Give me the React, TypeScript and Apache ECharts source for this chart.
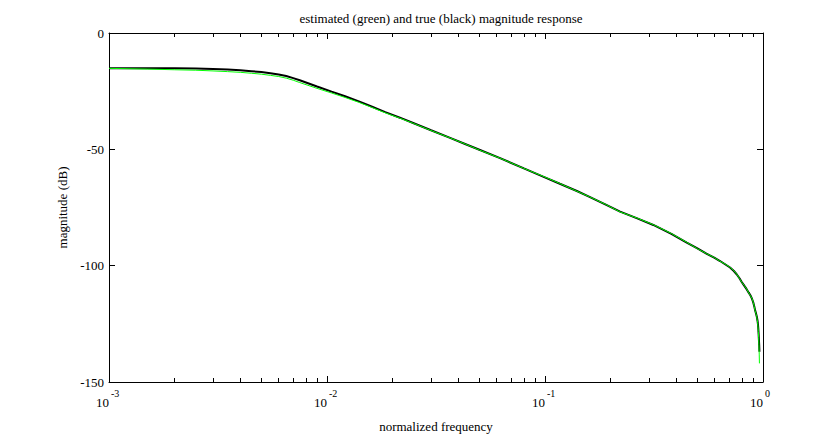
import React, { useEffect, useRef } from "react";
import * as echarts from "echarts";

// normalized frequency samples
const freq = [
  0.001, 0.0015, 0.002, 0.0025, 0.003, 0.0035, 0.004, 0.0045, 0.005, 0.0055,
  0.006, 0.0065, 0.007, 0.0075, 0.009, 0.0105, 0.0121, 0.014, 0.016, 0.0185, 0.0216,
  0.025, 0.03, 0.0367, 0.043, 0.05, 0.0622, 0.08, 0.098, 0.117, 0.14,
  0.16, 0.19, 0.221, 0.265, 0.314, 0.38, 0.447, 0.5, 0.55, 0.6,
  0.635, 0.67, 0.706, 0.735, 0.757, 0.78, 0.8, 0.82, 0.841, 0.86,
  0.875, 0.89, 0.903, 0.912, 0.92, 0.928, 0.935, 0.94, 0.945, 0.949,
  0.952, 0.955, 0.958, 0.961, 0.963,
];
// true magnitude response (black), dB
const trueDb = [
  -15.1, -15.1, -15.2, -15.3, -15.5, -15.7, -16.0, -16.4, -16.8, -17.3,
  -17.8, -18.5, -19.4, -20.3, -23.0, -25.2, -27.2, -29.4, -31.6, -34.0, -36.4,
  -38.8, -41.8, -45.1, -47.7, -50.2, -53.8, -58.2, -61.7, -64.8, -67.9,
  -70.4, -73.8, -76.8, -79.7, -82.5, -86.3, -90.1, -92.6, -94.8, -96.7,
  -98.0, -99.4, -100.8, -102.3, -103.7, -105.4, -107.1, -108.6, -110.1, -111.6,
  -112.7, -114.2, -115.9, -117.5, -119.2, -120.4, -121.6, -122.7, -124.0, -125.6,
  -127.3, -129.5, -132.0, -134.6, -137.0,
];
// estimated magnitude response (green), dB
const estDb = [
  -15.2, -15.5, -15.8, -16.0, -16.3, -16.6, -16.9, -17.3, -17.7, -18.2,
  -18.7, -19.4, -20.3, -21.3, -23.8, -25.8, -27.7, -29.8, -31.9, -34.3, -36.6,
  -38.9, -41.9, -45.1, -47.7, -50.3, -53.8, -58.2, -61.6, -64.7, -68.0,
  -70.4, -73.7, -76.9, -79.6, -82.4, -86.2, -90.0, -92.7, -94.8, -96.6,
  -98.1, -99.3, -100.7, -102.2, -103.6, -105.5, -107.2, -108.5, -110.0, -111.7,
  -112.8, -114.1, -115.8, -117.6, -119.3, -120.6, -121.8, -123.0, -124.5, -126.3,
  -128.3, -131.0, -134.0, -138.0, -142.0,
];
const yTicks = [-150, -100, -50, 0];
const decades = [-3, -2, -1];
const minorMultipliers = [2, 3, 4, 5, 6, 7, 8, 9];

const titleText = "estimated (green) and true (black) magnitude response";
const xName = "normalized frequency";
const yName = "magnitude (dB)";

const FONT = '"Liberation Serif", "Times New Roman", serif';

export default function App() {
  const ref = useRef<HTMLDivElement>(null);
  useEffect(() => {
    if (!ref.current) return;
    const chart = echarts.init(ref.current, undefined, { renderer: "svg" });
    const minorTicks: number[] = [];
    decades.forEach((d) =>
      minorMultipliers.forEach((k) => minorTicks.push(d + Math.log10(k)))
    );
    const blackData = freq.map((f, i) => [f, trueDb[i]]);
    const greenData = freq.map((f, i) => [f, estDb[i]]);
    const axisLine = { show: true, onZero: false, lineStyle: { color: "#000", width: 1 } };
    const noLine = { show: false, onZero: false };
    const majorTick = { show: true, inside: true, length: 6, lineStyle: { color: "#000" } };
    const minorTick = {
      show: true,
      inside: true,
      length: 4,
      lineStyle: { color: "#000" },
      customValues: minorTicks,
    };
    const logBase = {
      type: "log" as const,
      logBase: 10,
      min: 0.001,
      max: 1,
      splitLine: { show: false },
      minorTick: { show: false },
    };
    const valBase = {
      type: "value" as const,
      min: -3,
      max: 0,
      splitLine: { show: false },
      axisLine: noLine,
      axisLabel: { show: false },
      axisTick: minorTick,
    };
    chart.setOption({
      animation: false,
      backgroundColor: "#fff",
      title: {
        text: titleText,
        left: 436,
        top: 7,
        textAlign: "center",
        textStyle: { fontFamily: FONT, fontSize: 13, fontWeight: "normal", color: "#000" },
      },
      grid: { left: 109, right: 77, top: 33, bottom: 55, containLabel: false },
      xAxis: [
        {
          ...logBase,
          position: "bottom",
          axisLine,
          axisTick: majorTick,
          name: xName,
          nameLocation: "middle",
          nameGap: 38,
          nameTextStyle: { fontFamily: FONT, fontSize: 13, color: "#000" },
          axisLabel: {
            show: true,
            showMinLabel: true,
            showMaxLabel: true,
            align: "right",
            margin: 14,
            fontFamily: FONT,
            fontSize: 13,
            color: "#000",
            formatter: () => "10",
          },
        },
        {
          ...logBase,
          position: "bottom",
          axisLine: noLine,
          axisTick: { show: false },
          axisLabel: {
            show: true,
            showMinLabel: true,
            showMaxLabel: true,
            align: "left",
            margin: 6,
            padding: [0, 0, 0, 2],
            fontFamily: FONT,
            fontSize: 10,
            color: "#000",
            formatter: (v: number) => String(Math.round(Math.log10(v))),
          },
        },
        {
          ...logBase,
          position: "top",
          axisLine,
          axisTick: majorTick,
          axisLabel: { show: false },
        },
        { ...valBase, position: "bottom" },
        { ...valBase, position: "top" },
      ],
      yAxis: [
        {
          type: "value",
          min: yTicks[0],
          max: yTicks[yTicks.length - 1],
          interval: 50,
          position: "left",
          axisLine,
          axisTick: majorTick,
          splitLine: { show: false },
          axisLabel: { margin: 5, fontFamily: FONT, fontSize: 13, color: "#000" },
          name: yName,
          nameLocation: "middle",
          nameRotate: 90,
          nameGap: 38,
          nameTextStyle: { fontFamily: FONT, fontSize: 13, color: "#000" },
        },
        {
          type: "value",
          min: yTicks[0],
          max: yTicks[yTicks.length - 1],
          interval: 50,
          position: "right",
          axisLine,
          axisTick: majorTick,
          splitLine: { show: false },
          axisLabel: { show: false },
        },
      ],
      series: [
        {
          type: "line",
          xAxisIndex: 0,
          yAxisIndex: 0,
          data: blackData,
          showSymbol: false,
          symbol: "none",
          lineStyle: { color: "#000", width: 2 },
        },
        {
          type: "line",
          xAxisIndex: 0,
          yAxisIndex: 0,
          data: greenData,
          showSymbol: false,
          symbol: "none",
          lineStyle: { color: "#00ff00", width: 1 },
        },
      ],
    });
    return () => chart.dispose();
  }, []);
  return (
    <div
      ref={ref}
      style={{ position: "fixed", left: 0, top: 0, width: 840, height: 438, background: "#fff" }}
    />
  );
}
